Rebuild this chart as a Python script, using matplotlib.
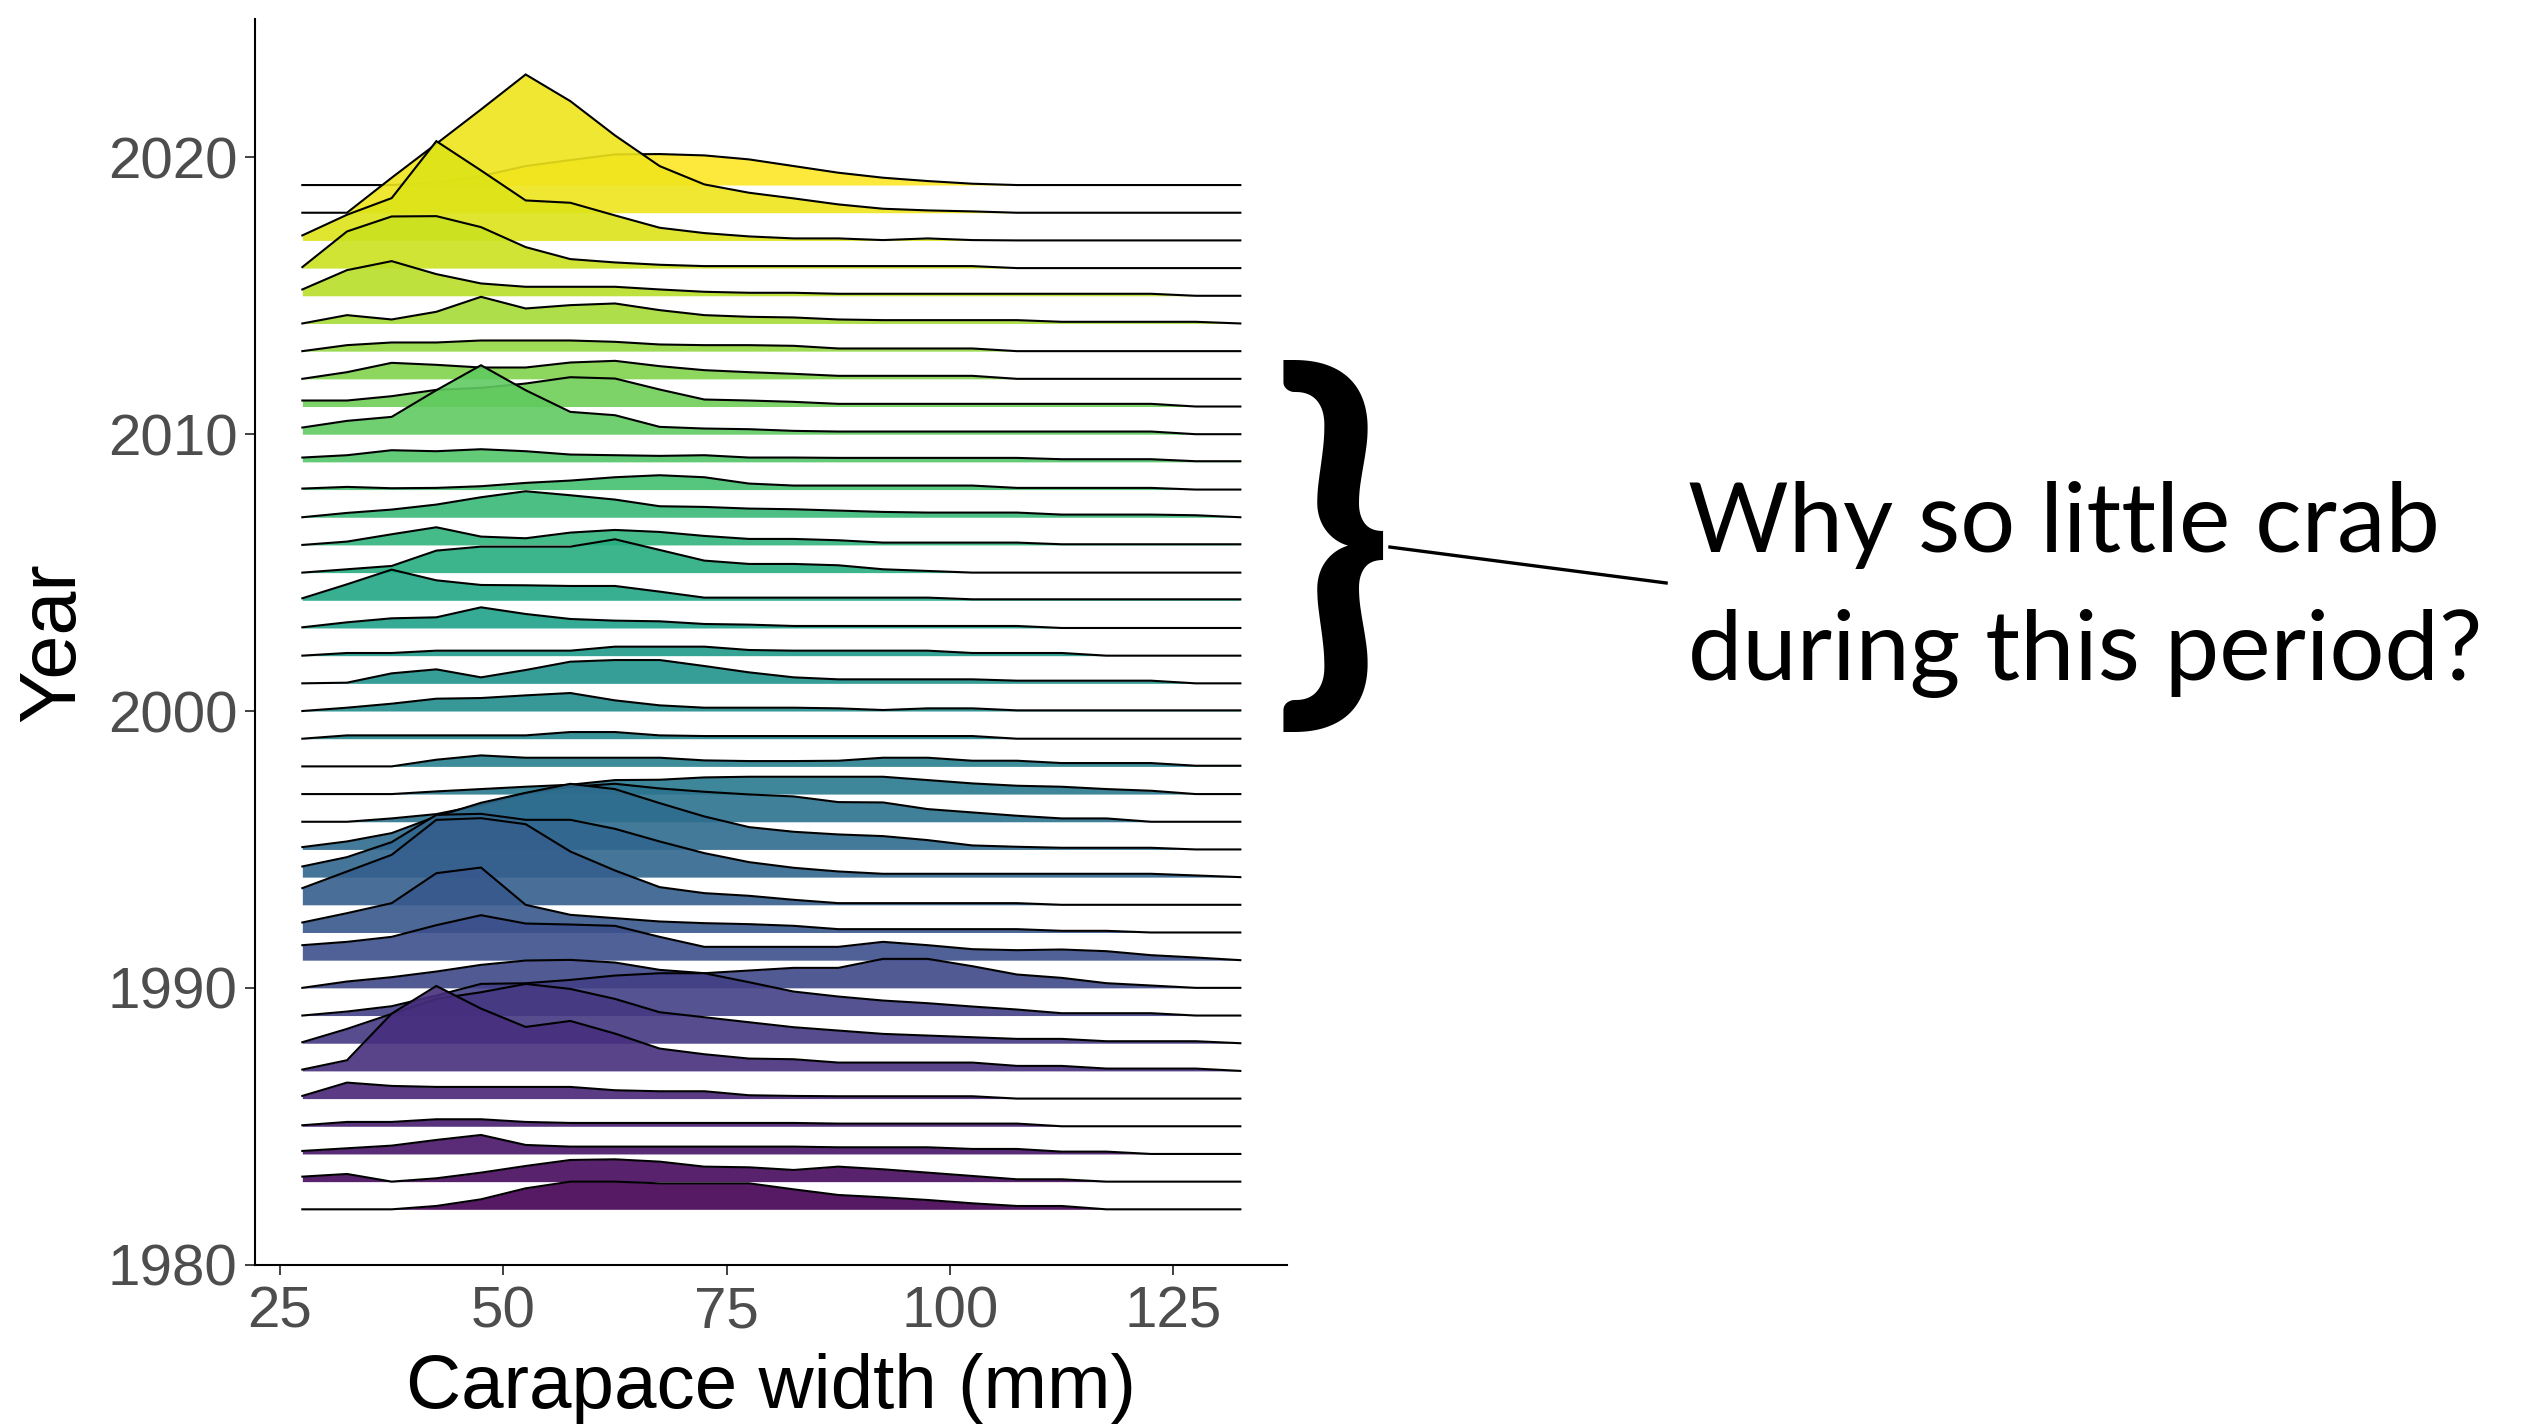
import matplotlib
matplotlib.use("Agg")
import matplotlib.pyplot as plt
from matplotlib.lines import Line2D

# ---- data -------------------------------------------------------------
# carapace-width bin centres (mm)
widths = [27.5, 32.5, 37.5, 42.5, 47.5, 52.5, 57.5, 62.5, 67.5, 72.5, 77.5,
          82.5, 87.5, 92.5, 97.5, 102.5, 107.5, 112.5, 117.5, 122.5, 127.5, 132.5]

years = [1982, 1983, 1984, 1985, 1986, 1987, 1988, 1989, 1990, 1991, 1992, 1993,
         1994, 1995, 1996, 1997, 1998, 1999, 2000, 2001, 2002, 2003, 2004, 2005,
         2006, 2007, 2008, 2009, 2010, 2011, 2012, 2013, 2014, 2015, 2016, 2017,
         2018, 2019]

# relative density per bin for each year (arbitrary units)
h1982 = [0, 0, 0, 10, 30, 63, 83, 83, 78, 78, 78, 60, 43, 36, 28, 18, 10, 10, 0, 0, 0, 0]
h1983 = [15, 23, 0, 10, 27, 47, 65, 67, 60, 45, 43, 35, 45, 37, 27, 17, 7, 7, 0, 0, 0, 0]
h1984 = [9, 17, 25, 42, 57, 27, 22, 22, 22, 22, 22, 22, 20, 20, 20, 15, 15, 7, 7, 0, 0, 0]
h1985 = [3, 13, 13, 21, 21, 13, 10, 10, 10, 10, 10, 10, 8, 8, 8, 8, 8, 0, 0, 0, 0, 0]
h1986 = [8, 48, 38, 35, 35, 35, 35, 25, 22, 22, 10, 8, 7, 7, 7, 7, 0, 0, 0, 0, 0, 0]
h1987 = [4, 32, 172, 255, 187, 132, 150, 112, 67, 50, 37, 35, 25, 25, 25, 25, 15, 15, 7, 7, 7, 0]
h1988 = [3, 43, 88, 133, 153, 178, 163, 133, 93, 78, 63, 48, 38, 28, 23, 18, 13, 13, 6, 6, 6, 0]
h1989 = [0, 12, 28, 60, 95, 97, 107, 120, 127, 127, 100, 72, 57, 45, 37, 27, 18, 7, 7, 7, 0, 0]
h1990 = [0, 19, 32, 49, 69, 82, 84, 76, 54, 44, 52, 60, 60, 87, 87, 65, 40, 30, 14, 7, 0, 0]
h1991 = [45, 55, 70, 105, 135, 110, 107, 103, 70, 40, 40, 40, 40, 55, 45, 33, 30, 32, 27, 15, 8, 0]
h1992 = [30, 58, 88, 178, 195, 83, 53, 43, 33, 28, 25, 20, 10, 10, 10, 10, 10, 5, 5, 0, 0, 0]
h1993 = [50, 100, 150, 255, 260, 242, 160, 103, 53, 35, 27, 15, 5, 5, 5, 5, 5, 0, 0, 0, 0, 0]
h1994 = [32, 60, 105, 187, 190, 172, 172, 145, 107, 72, 45, 28, 17, 10, 10, 10, 10, 10, 10, 10, 5, 0]
h1995 = [7, 24, 49, 99, 140, 170, 197, 181, 139, 99, 67, 53, 45, 40, 28, 12, 8, 5, 5, 5, 0, 0]
h1996 = [0, 0, 10, 23, 50, 85, 105, 114, 100, 90, 82, 76, 59, 58, 38, 28, 18, 10, 10, 0, 0, 0]
h1997 = [0, 0, 0, 8, 15, 22, 28, 42, 43, 50, 52, 52, 52, 52, 42, 32, 25, 22, 15, 10, 0, 0]
h1998 = [0, 0, 0, 20, 33, 26, 26, 26, 26, 18, 16, 16, 17, 26, 26, 17, 17, 10, 10, 10, 2, 2]
h1999 = [0, 10, 10, 10, 10, 10, 20, 20, 10, 8, 8, 8, 8, 8, 8, 8, 0, 0, 0, 0, 0, 0]
h2000 = [0, 10, 22, 37, 39, 47, 54, 32, 17, 10, 10, 10, 8, 3, 8, 8, 2, 2, 2, 2, 2, 2]
h2001 = [0, 2, 30, 42, 18, 40, 65, 70, 70, 52, 33, 18, 12, 12, 12, 12, 8, 8, 8, 8, 0, 0]
h2002 = [0, 8, 8, 15, 15, 15, 15, 27, 27, 27, 17, 15, 15, 15, 15, 8, 8, 8, 0, 0, 0, 0]
h2003 = [2, 17, 29, 32, 62, 42, 27, 22, 20, 12, 10, 6, 6, 6, 6, 6, 6, 0, 0, 0, 0, 0]
h2004 = [6, 48, 92, 60, 46, 45, 43, 43, 26, 8, 8, 8, 8, 8, 8, 3, 3, 3, 3, 3, 3, 3]
h2005 = [0, 10, 20, 66, 78, 78, 78, 100, 68, 36, 26, 26, 22, 10, 5, 0, 0, 0, 0, 0, 0, 0]
h2006 = [0, 10, 32, 53, 25, 20, 37, 45, 39, 27, 18, 18, 14, 7, 7, 7, 7, 2, 2, 2, 2, 2]
h2007 = [0, 13, 23, 38, 60, 78, 66, 53, 33, 31, 26, 24, 20, 16, 14, 14, 14, 8, 8, 8, 6, 0]
h2008 = [3, 8, 4, 5, 10, 20, 27, 37, 43, 37, 18, 12, 12, 12, 12, 12, 5, 5, 5, 5, 0, 0]
h2009 = [13, 20, 35, 32, 38, 32, 22, 20, 18, 20, 13, 13, 12, 12, 12, 12, 12, 8, 8, 8, 2, 2]
h2010 = [20, 40, 52, 132, 207, 132, 67, 57, 22, 17, 15, 10, 8, 8, 8, 8, 8, 8, 8, 8, 0, 0]
h2011 = [18, 18, 31, 50, 56, 69, 88, 84, 51, 21, 18, 14, 8, 8, 8, 8, 8, 8, 8, 8, 0, 0]
h2012 = [0, 20, 48, 42, 34, 34, 49, 54, 38, 26, 20, 15, 9, 9, 9, 9, 0, 0, 0, 0, 0, 0]
h2013 = [0, 18, 26, 26, 32, 32, 32, 28, 20, 18, 18, 16, 8, 8, 8, 8, 0, 0, 0, 0, 0, 0]
h2014 = [0, 25, 12, 35, 80, 45, 55, 60, 40, 25, 20, 18, 12, 10, 10, 10, 10, 5, 5, 5, 5, 0]
h2015 = [19, 77, 104, 65, 37, 27, 27, 27, 19, 12, 9, 9, 6, 6, 6, 6, 6, 6, 6, 6, 0, 0]
h2016 = [3, 110, 155, 156, 123, 63, 27, 17, 10, 6, 6, 6, 6, 6, 6, 6, 0, 0, 0, 0, 0, 0]
h2017 = [15, 77, 127, 298, 210, 120, 113, 75, 38, 22, 12, 6, 6, 1, 6, 1, 0, 0, 0, 0, 0, 0]
h2018 = [0, 0, 105, 207, 310, 415, 335, 232, 140, 85, 60, 43, 25, 12, 7, 4, 0, 0, 0, 0, 0, 0]
h2019 = [0, 0, 0, 8, 27, 57, 75, 92, 93, 89, 77, 57, 37, 22, 12, 4, 0, 0, 0, 0, 0, 0]

heights = [h1982, h1983, h1984, h1985, h1986, h1987, h1988, h1989, h1990, h1991,
           h1992, h1993, h1994, h1995, h1996, h1997, h1998, h1999, h2000, h2001,
           h2002, h2003, h2004, h2005, h2006, h2007, h2008, h2009, h2010, h2011,
           h2012, h2013, h2014, h2015, h2016, h2017, h2018, h2019]

year_ticks = [1980, 1990, 2000, 2010, 2020]
width_ticks = [25, 50, 75, 100, 125]

note_line1 = "Why so little crab"
note_line2 = "during this period?"

# ---- style ------------------------------------------------------------
SCALE = 1 / 83.1          # density units -> year units
W, H, DPI = 25.29, 14.25, 100
tick_font = ["Liberation Sans", "DejaVu Sans"]

fig = plt.figure(figsize=(W, H), dpi=DPI)
ax = fig.add_axes([0.101, 0.1125, 0.408, 0.8742])

cmap = matplotlib.colormaps["viridis"]
ymin, ymax = min(years), max(years)

order = sorted(range(len(years)), key=lambda i: -years[i])
for z, i in enumerate(order):
    yr = years[i]
    top = [yr + v * SCALE for v in heights[i]]
    col = cmap((yr - ymin) / (ymax - ymin))
    ax.fill_between(widths, [yr] * len(widths), top, color=col, alpha=0.9,
                    linewidth=0, zorder=2 + 2 * z)
    ax.plot(widths, top, color="black", linewidth=1.5, zorder=3 + 2 * z,
            solid_joinstyle="miter")

ax.set_xlim(22.25, 137.75)
ax.set_ylim(1980, 2025)
ax.set_xticks(width_ticks)
ax.set_yticks(year_ticks)
for s in ["top", "right"]:
    ax.spines[s].set_visible(False)
for s in ["left", "bottom"]:
    ax.spines[s].set_linewidth(1.5)
    ax.spines[s].set_color("black")
ax.tick_params(axis="both", length=7, width=1.3, color="#333333",
               labelsize=42, labelcolor="#4D4D4D")
ax.tick_params(axis="x", pad=8)
ax.tick_params(axis="y", pad=6)
for lab in ax.get_xticklabels() + ax.get_yticklabels():
    lab.set_family(tick_font)

ax.set_xlabel("Carapace width (mm)", fontsize=55, family=tick_font,
              color="black", labelpad=10)
ax.set_ylabel("Year", fontsize=57, family=tick_font, color="black",
              labelpad=12)

# ---- annotation ---------------------------------------------------------
note_font = ["Lato", "DejaVu Sans"]
fig.text(0.527, 0.6135, "}", fontsize=288, family=note_font, fontweight="bold",
         ha="center", va="center", color="black")
fig.add_artist(Line2D([0.5496, 0.6588], [0.6161, 0.5909], color="black",
                      linewidth=2.4, transform=fig.transFigure))
fig.text(0.6675, 0.6126, note_line1, fontsize=70, family=note_font,
         ha="left", va="baseline", color="black")
fig.text(0.6675, 0.5228, note_line2, fontsize=70, family=note_font,
         ha="left", va="baseline", color="black")

fig.savefig("out.png", dpi=DPI, facecolor="white")
